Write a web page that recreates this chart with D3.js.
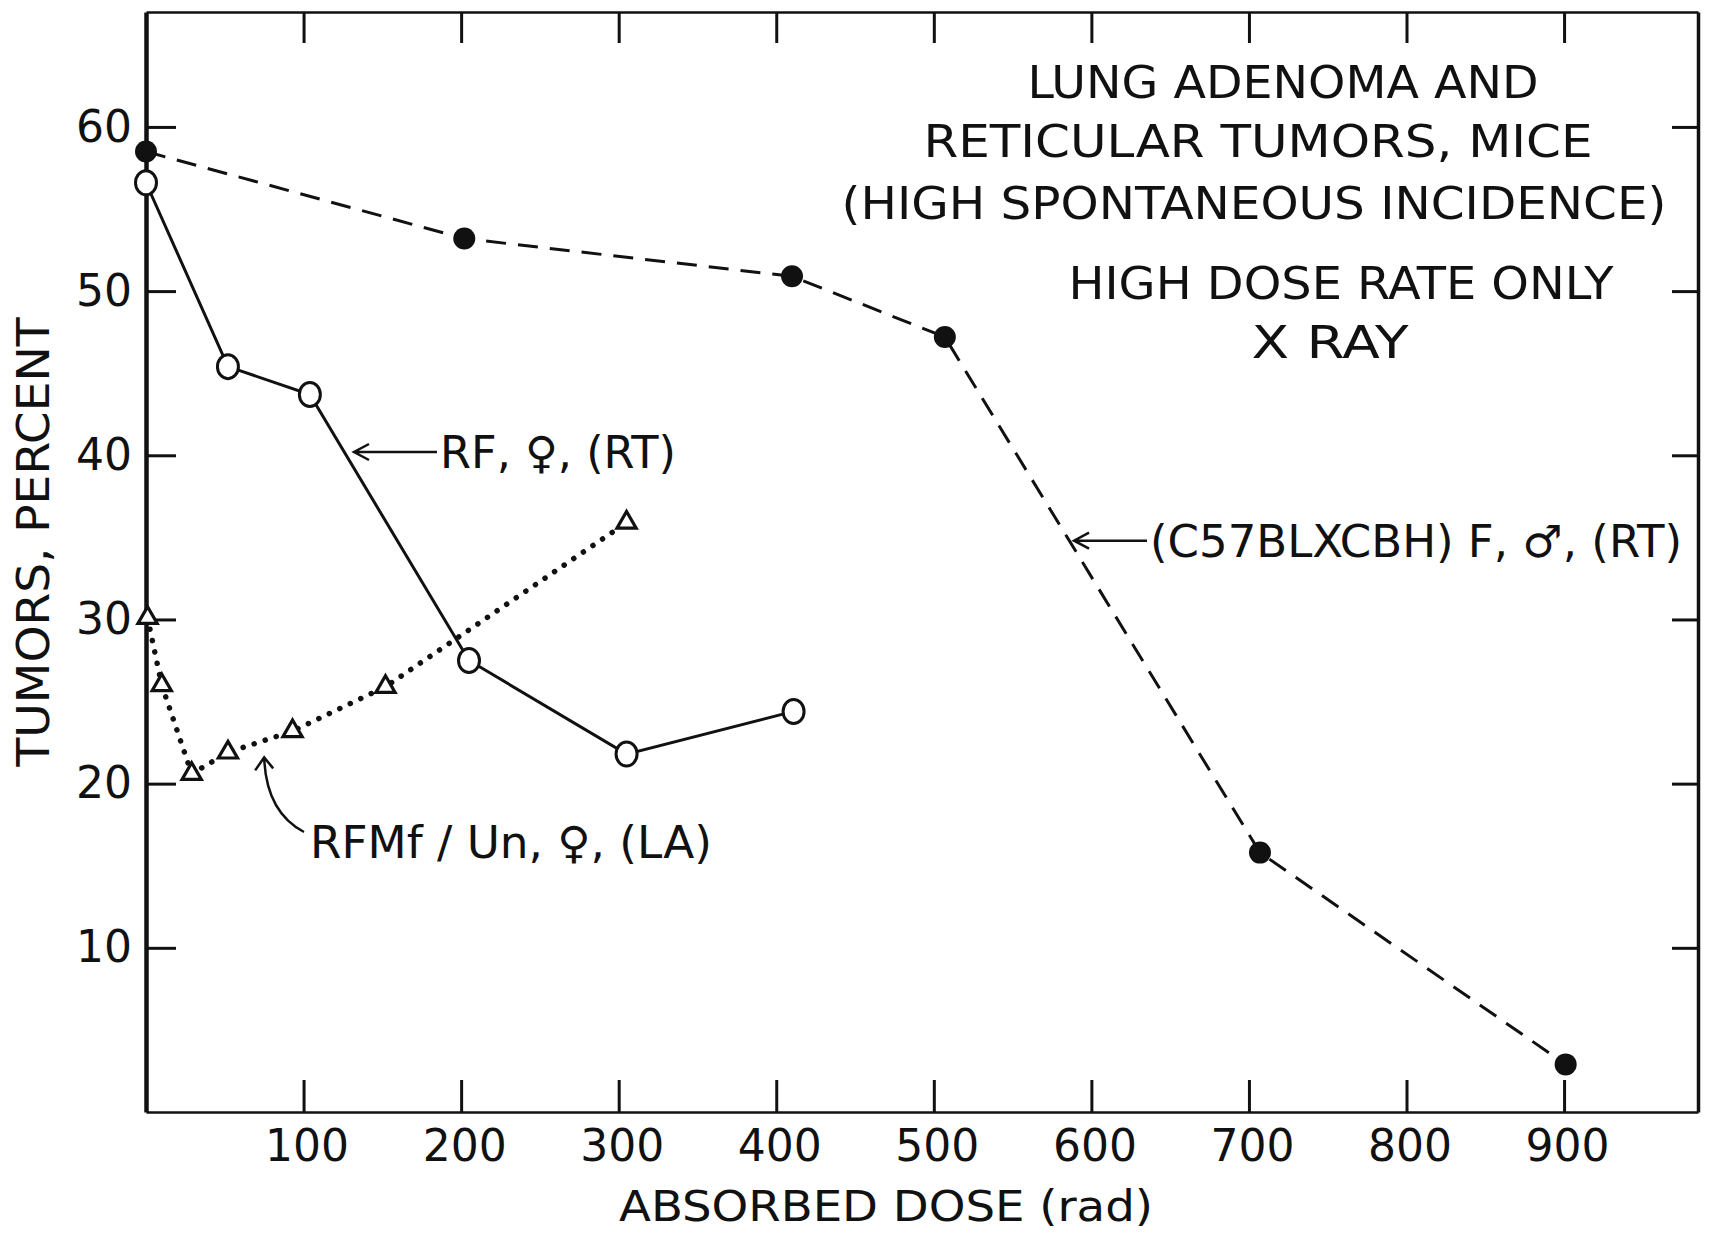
<!DOCTYPE html>
<html>
<head>
<meta charset="utf-8">
<script src="https://cdn.jsdelivr.net/npm/d3@7"></script>
<style>
  body { margin: 0; background: #fff; }
  svg { display: block; }
</style>
</head>
<body>
<svg width="1716" height="1234"></svg>
<script>
// dose (rad) and tumor incidence (%)
const doseC57 = [0, 202, 410, 507, 707, 901]
const tumorC57 = [58.5, 53.2, 50.9, 47.2, 15.8, 2.9]

const doseRF = [0, 52, 104, 205, 305, 411]
const tumorRF = [56.6, 45.4, 43.7, 27.5, 21.8, 24.4]

const doseRFM = [1, 10, 29, 52, 93, 152, 305]
const tumorRFM = [30.1, 26.0, 20.6, 21.9, 23.2, 25.9, 35.9]

const xTicks = [100, 200, 300, 400, 500, 600, 700, 800, 900]
const yTicks = [10, 20, 30, 40, 50, 60]

const titleLines = ['LUNG ADENOMA  AND', 'RETICULAR  TUMORS, MICE', '(HIGH  SPONTANEOUS  INCIDENCE)',
                    'HIGH  DOSE  RATE  ONLY', 'X  RAY']

const ink = '#111'
const font = '"DejaVu Sans", sans-serif'
const condensed = '"DejaVu Sans Condensed", "Liberation Sans Narrow", "DejaVu Sans", sans-serif'

const svg = d3.select('svg')

const x = d3.scaleLinear().domain([0, 985]).range([146, 1698])
const y = d3.scaleLinear().domain([0, 67]).range([1112, 12])

// AXES (all ticks point inward, like the drawn frame)
function styleAxis(g, width){
    g.select('.domain').attr('stroke', ink).attr('stroke-width', width)
    g.selectAll('.tick line').attr('stroke', ink).attr('stroke-width', 3)
    g.selectAll('.tick text').attr('fill', ink).style('font-family', font).style('font-size', '44px')
}

svg.append('g').attr('transform', `translate(0,${y(0)})`)
    .call(d3.axisBottom(x).tickValues(xTicks).tickSizeInner(-32).tickSizeOuter(0).tickPadding(18))
    .call(g => styleAxis(g, 2.5))
    .call(g => g.selectAll('.tick text').attr('dx', 3))

svg.append('g').attr('transform', `translate(0,${y(67)})`)
    .call(d3.axisTop(x).tickValues(xTicks).tickSizeInner(-31).tickSizeOuter(0).tickFormat(() => ''))
    .call(g => styleAxis(g, 2.5))

svg.append('g').attr('transform', `translate(${x(0)},0)`)
    .call(d3.axisLeft(y).tickValues(yTicks).tickSizeInner(-30).tickSizeOuter(0).tickPadding(14))
    .call(g => styleAxis(g, 4.5))

svg.append('g').attr('transform', `translate(${x(985)},0)`)
    .call(d3.axisRight(y).tickValues(yTicks).tickSizeInner(-26).tickSizeOuter(0).tickFormat(() => ''))
    .call(g => styleAxis(g, 3.5))

// axis titles
svg.append('text').text('ABSORBED  DOSE  (rad)')
    .attr('x', 886).attr('y', 1221).attr('text-anchor', 'middle')
    .attr('textLength', 534).attr('lengthAdjust', 'spacingAndGlyphs')
    .style('font-family', condensed).style('font-size', '42px').attr('fill', ink)

svg.append('text').text('TUMORS,  PERCENT')
    .attr('transform', 'translate(49,542) rotate(-90)').attr('text-anchor', 'middle')
    .attr('textLength', 449).attr('lengthAdjust', 'spacingAndGlyphs')
    .style('font-family', font).style('font-size', '44px').attr('fill', ink)

// title block
const titlePos = [[1283, 98, 511], [1258, 157, 669], [1254, 219, 825], [1341, 299, 545], [1330, 358, 157]]
svg.selectAll('.title').data(titleLines).enter().append('text').attr('class', 'title')
    .text(d => d)
    .attr('x', (d, i) => titlePos[i][0]).attr('y', (d, i) => titlePos[i][1])
    .attr('textLength', (d, i) => titlePos[i][2]).attr('lengthAdjust', 'spacingAndGlyphs')
    .attr('text-anchor', 'middle')
    .style('font-family', condensed).style('font-size', '44px').attr('fill', ink)

// SERIES
const line = d3.line().x(d => x(d[0])).y(d => y(d[1]))
const c57 = d3.zip(doseC57, tumorC57)
const rf = d3.zip(doseRF, tumorRF)
const rfm = d3.zip(doseRFM, tumorRFM)

svg.append('path').datum(rfm).attr('d', line)
    .attr('fill', 'none').attr('stroke', ink).attr('stroke-width', 5.5)
    .attr('stroke-linecap', 'round').attr('stroke-dasharray', '0.1,11.5')

svg.append('path').datum(c57).attr('d', line)
    .attr('fill', 'none').attr('stroke', ink).attr('stroke-width', 3)
    .attr('stroke-dasharray', '20,12')

svg.append('path').datum(rf).attr('d', line)
    .attr('fill', 'none').attr('stroke', ink).attr('stroke-width', 3)

svg.selectAll('.tri').data(rfm).enter().append('path').attr('class', 'tri')
    .attr('d', d3.symbol(d3.symbolTriangle).size(160))
    .attr('transform', d => `translate(${x(d[0])},${y(d[1])})`)
    .attr('fill', '#fff').attr('stroke', ink).attr('stroke-width', 3.2)

svg.selectAll('.open').data(rf).enter().append('ellipse').attr('class', 'open')
    .attr('cx', d => x(d[0])).attr('cy', d => y(d[1])).attr('rx', 10.5).attr('ry', 12)
    .attr('fill', '#fff').attr('stroke', ink).attr('stroke-width', 3)

svg.selectAll('.dot').data(c57).enter().append('circle').attr('class', 'dot')
    .attr('cx', d => x(d[0])).attr('cy', d => y(d[1])).attr('r', 11)
    .attr('fill', ink)

// ANNOTATIONS: arrow tip in data units, label start in pixels
function label(tip, textX, text, len){
    const tx = x(tip[0]), ty = y(tip[1])
    svg.append('path')
        .attr('d', `M${textX - 3},${ty} L${tx},${ty} M${tx + 15},${ty - 8} L${tx},${ty} L${tx + 15},${ty + 8}`)
        .attr('fill', 'none').attr('stroke', ink).attr('stroke-width', 2.5)
    svg.append('text').text(text)
        .attr('x', textX).attr('y', ty + 16)
        .attr('textLength', len).attr('lengthAdjust', 'spacingAndGlyphs')
        .style('font-family', font).style('font-size', '44px').attr('fill', ink)
}
label([132, 40.2], 440, 'RF, ♀, (RT)', 236)
label([589, 34.8], 1150, '(C57BLXCBH) F, ♂, (RT)', 532)

// curved arrow for RFMf/Un
const tip = [x(75), y(21.6)]
svg.append('path')
    .attr('d', `M304,832 Q266,812 ${tip[0]},${tip[1]} M${tip[0] - 9},${tip[1] + 13} L${tip[0]},${tip[1]} L${tip[0] + 9},${tip[1] + 11}`)
    .attr('fill', 'none').attr('stroke', ink).attr('stroke-width', 2.5)
svg.append('text').text('RFMf / Un, ♀, (LA)')
    .attr('x', 310).attr('y', 858)
    .attr('textLength', 402).attr('lengthAdjust', 'spacingAndGlyphs')
    .style('font-family', font).style('font-size', '44px').attr('fill', ink)
</script>
</body>
</html>
